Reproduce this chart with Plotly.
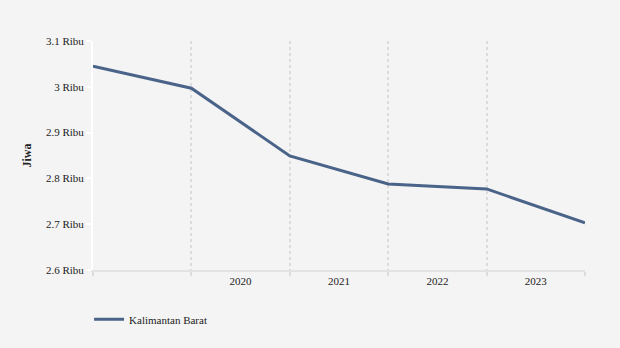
import plotly.graph_objects as go

series_name = "Kalimantan Barat"
year_labels = ["2020", "2021", "2022", "2023"]
values_ribu = [3.045, 2.997, 2.849, 2.788, 2.777, 2.703]
y_title = "Jiwa"

x_pos = list(range(len(values_ribu)))
label_pos = [i + 1.5 for i in range(len(year_labels))]

fig = go.Figure()
fig.add_trace(go.Scatter(
    x=x_pos, y=values_ribu, mode="lines", name=series_name,
    line=dict(color="#4a6389", width=3),
    showlegend=True,
))

font_family = "Liberation Serif, Times New Roman, serif"
fig.update_layout(
    width=620, height=348,
    paper_bgcolor="#f4f4f4", plot_bgcolor="#f4f4f4",
    margin=dict(l=93, r=35, t=41, b=78, autoexpand=False),
    font=dict(family=font_family, size=11, color="#222"),
    showlegend=True,
    legend=dict(orientation="h", x=-0.008, xanchor="left", y=-0.152, yanchor="top",
                font=dict(size=11), bgcolor="rgba(0,0,0,0)"),
    xaxis=dict(
        range=[0, len(values_ribu) - 1],
        tickmode="array", tickvals=label_pos, ticktext=year_labels,
        showgrid=False, zeroline=False,
        showline=True, linecolor="#e3e3e3", linewidth=2,
        ticks="", tickfont=dict(size=11),
        minor=dict(tickmode="linear", tick0=0, dtick=1, showgrid=True,
                   gridcolor="#dcdcdc", griddash="dot", gridwidth=1.5,
                   ticks="outside", ticklen=4, tickcolor="#dcdcdc", tickwidth=1.5),
    ),
    yaxis=dict(
        range=[2.6, 3.1], dtick=0.1, tick0=2.6,
        ticksuffix=" Ribu", showgrid=False, zeroline=False,
        showline=True, linecolor="#ffffff", linewidth=2,
        ticks="outside", ticklen=5, tickcolor="#ffffff", tickwidth=2,
        tickfont=dict(size=11),
        title=dict(text="<b>" + y_title + "</b>", font=dict(size=12), standoff=12),
    ),
)

fig.write_html("out.html")
